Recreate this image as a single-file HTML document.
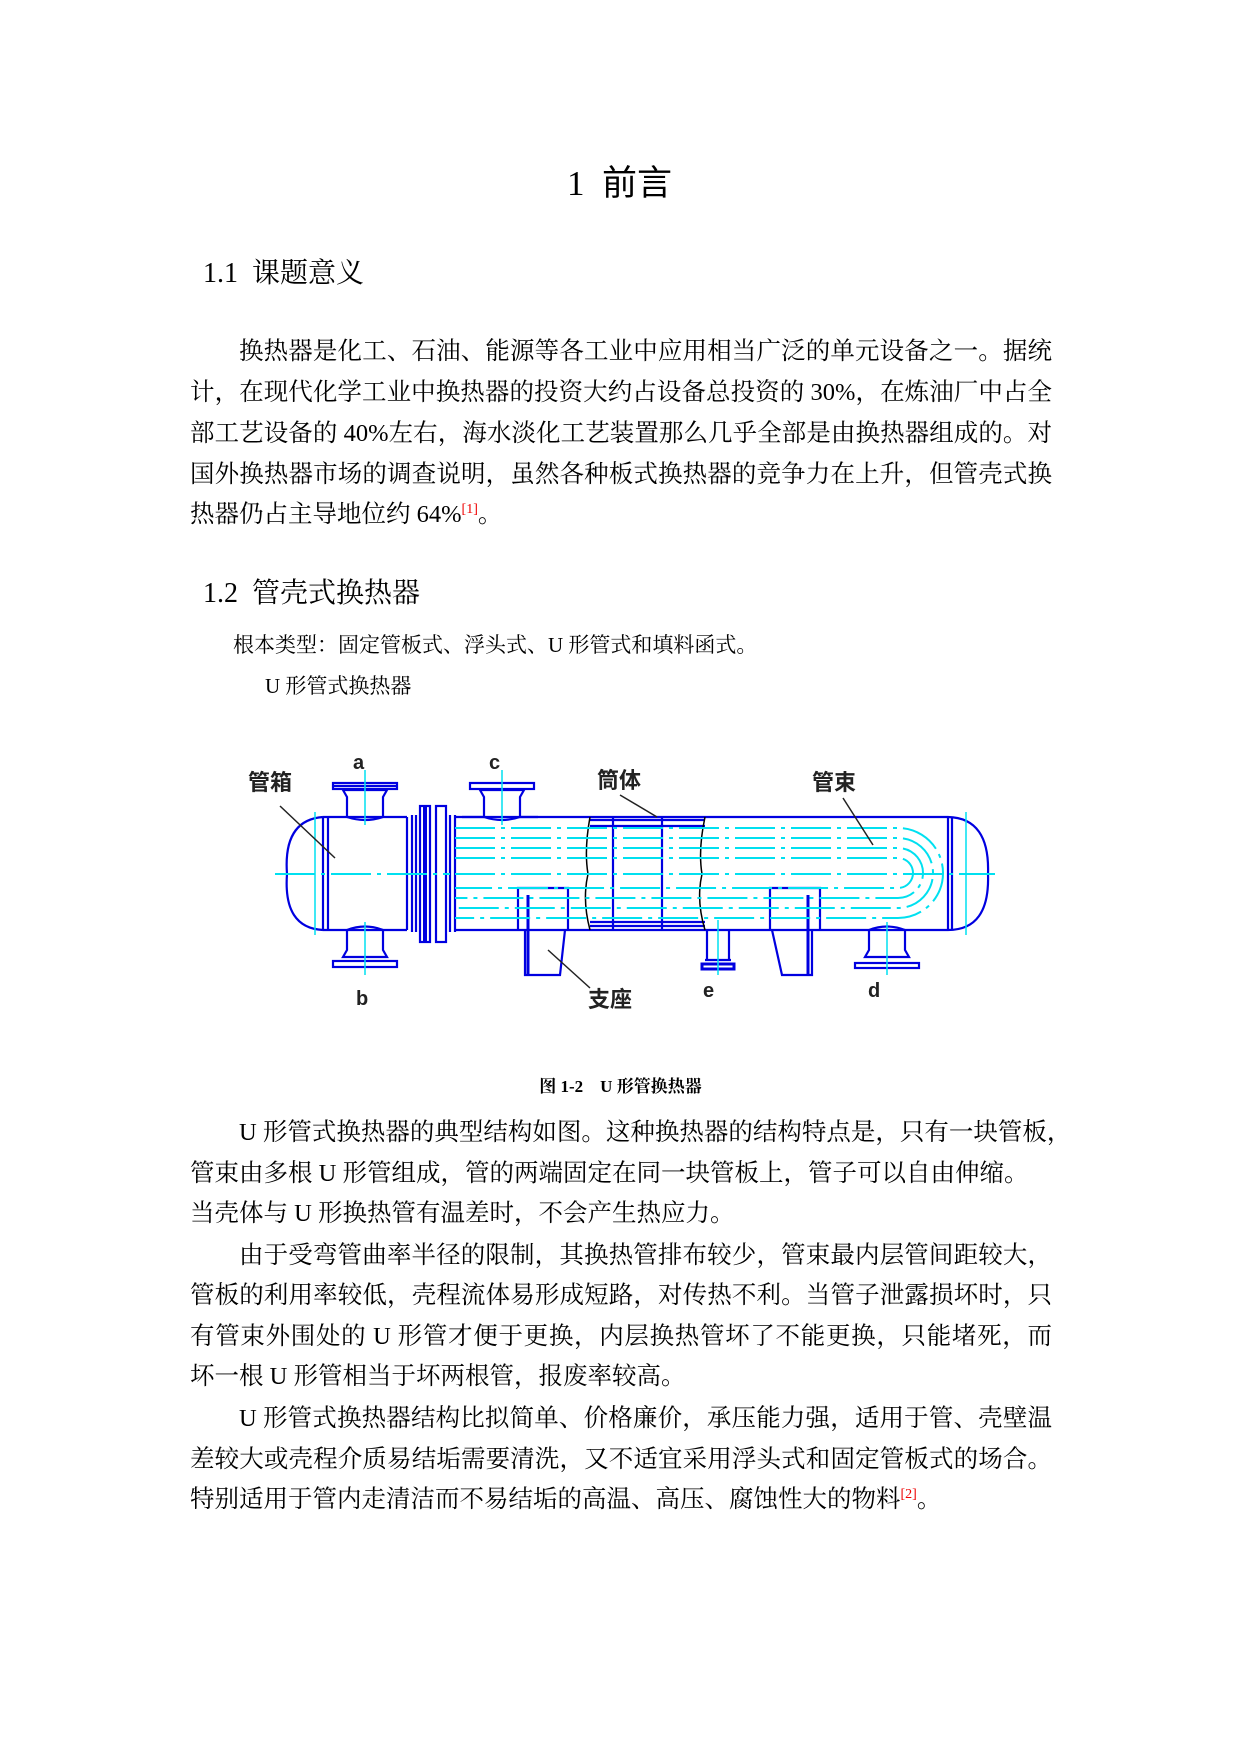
<!DOCTYPE html>
<html><head><meta charset="utf-8"><style>
body{margin:0;background:#fff;}
.pg{position:relative;width:1241px;height:1754px;overflow:hidden;font-family:"Liberation Serif","Noto Serif CJK SC",serif;color:#000;}
.l{position:absolute;left:190px;width:862px;font-size:24.5px;line-height:40px;height:40px;white-space:nowrap;}
.j{text-align:justify;text-align-last:justify;}
sup{color:#e00;font-size:14px;vertical-align:9px;line-height:0;}
.t{position:absolute;white-space:nowrap;}
</style></head><body><div class="pg">
<div class="t" style="left:567px;top:163px;font-size:35px;line-height:42px;font-family:'Liberation Serif','Noto Sans CJK SC',serif;">1&nbsp;&nbsp;前言</div>
<div class="t" style="left:203px;top:256px;font-size:28px;line-height:36px;">1.1&nbsp;&nbsp;课题意义</div>
<div class="l j" style="top:332px;padding-left:49px;width:813px;">换热器是化工、石油、能源等各工业中应用相当广泛的单元设备之一。据统</div>
<div class="l j" style="top:373px;">计，在现代化学工业中换热器的投资大约占设备总投资的 30%，在炼油厂中占全</div>
<div class="l j" style="top:414px;">部工艺设备的 40%左右，海水淡化工艺装置那么几乎全部是由换热器组成的。对</div>
<div class="l j" style="top:455px;">国外换热器市场的调查说明，虽然各种板式换热器的竞争力在上升，但管壳式换</div>
<div class="l" style="top:495px;">热器仍占主导地位约 64%<sup>[1]</sup>。</div>
<div class="t" style="left:203px;top:576px;font-size:28px;line-height:36px;">1.2&nbsp;&nbsp;管壳式换热器</div>
<div class="t" style="left:233px;top:631px;font-size:21px;line-height:28px;">根本类型：固定管板式、浮头式、U 形管式和填料函式。</div>
<div class="t" style="left:265px;top:672px;font-size:21px;line-height:28px;">U 形管式换热器</div>
<svg style="position:absolute;left:0;top:0" width="1241" height="1754" font-family="'Noto Sans CJK SC',sans-serif">
<g fill="none" stroke="#0000e0" stroke-width="2.2">
<path d="M323,817 Q283,820 287,874 Q283,928 323,930"/>
<line x1="323" y1="817" x2="323" y2="930"/><line x1="328" y1="817" x2="328" y2="930"/>
<line x1="323" y1="817" x2="407" y2="817"/><line x1="323" y1="930" x2="407" y2="930"/>
<line x1="407" y1="817" x2="407" y2="930"/><line x1="412" y1="815" x2="412" y2="932"/><line x1="416" y1="815" x2="416" y2="932"/>
<rect x="420" y="806" width="10" height="136"/><rect x="436" y="806" width="10" height="136"/>
<line x1="425" y1="806" x2="425" y2="942" stroke-width="4"/>
<line x1="450" y1="815" x2="450" y2="932"/><line x1="455" y1="815" x2="455" y2="932"/>
<line x1="455" y1="817" x2="948" y2="817"/><line x1="455" y1="930" x2="948" y2="930"/>
<line x1="590" y1="820" x2="705" y2="820"/><line x1="590" y1="826" x2="705" y2="826"/>
<line x1="590" y1="926" x2="705" y2="926"/><line x1="590" y1="922" x2="705" y2="922"/>
<line x1="613" y1="817" x2="613" y2="930"/><line x1="662" y1="817" x2="662" y2="930"/>
<path d="M948,817 Q990,818 988,874 Q990,930 948,930"/>
<line x1="948" y1="817" x2="948" y2="930"/><line x1="952" y1="817" x2="952" y2="930"/>
<path d="M347,817 V797 L343,790 H387 L383,797 V817"/><path d="M347,817 Q365,823 383,817"/>
<rect x="333" y="783" width="64" height="6"/><line x1="333" y1="786" x2="397" y2="786"/>
<path d="M484,817 V797 L480,790 H524 L520,797 V817"/><path d="M484,817 Q502,823 520,817"/>
<rect x="470" y="783" width="64" height="6"/>
<line x1="462" y1="817" x2="484" y2="817"/><line x1="520" y1="817" x2="538" y2="817"/>
<path d="M347,930 V950 L343,957 H387 L383,950 V930"/><path d="M347,930 Q365,923 383,930"/>
<rect x="333" y="961" width="64" height="6"/>
<path d="M707,930 V960 M729,930 V960 M705,960 H731"/><rect x="702" y="964" width="32" height="5" stroke-width="3"/>
<path d="M869,930 V950 L865,957 H909 L905,950 V930"/><path d="M869,930 Q887,923 905,930"/>
<rect x="855" y="963" width="64" height="5"/>
<path d="M518,930 V888 H568 V930"/><path d="M525,930 V975 H560 L565,930"/><line x1="528" y1="895" x2="528" y2="975" stroke-width="3"/>
<path d="M770,930 V888 H820 V930"/><path d="M772,930 L782,975 H812 V930"/><line x1="808" y1="895" x2="808" y2="975" stroke-width="3"/>
</g>
<path d="M590,817 Q584,850 588,874 Q582,900 590,930 M705,817 Q698,850 702,874 Q696,900 705,930" fill="none" stroke="#000" stroke-width="1.5"/>
<g fill="none" stroke="#00e0f0" stroke-width="2" stroke-dasharray="40,6,4,6">
<line x1="275" y1="874" x2="450" y2="874"/>
<line x1="455" y1="874" x2="995" y2="874"/>
<path d="M455,858 H898 A15,15 0 0 1 898,888 H455"/>
<path d="M455,848 H898 A25,25 0 0 1 898,898 H455"/>
<path d="M455,838 H898 A35,35 0 0 1 898,908 H455"/>
<path d="M455,828 H898 A45,45 0 0 1 898,918 H455"/>
</g>
<g stroke="#00e0f0" stroke-width="1.5">
<line x1="365" y1="770" x2="365" y2="825"/><line x1="502" y1="770" x2="502" y2="825"/>
<line x1="365" y1="922" x2="365" y2="975"/><line x1="718" y1="920" x2="718" y2="975"/>
<line x1="887" y1="922" x2="887" y2="975"/><line x1="315" y1="812" x2="315" y2="935"/><line x1="966" y1="812" x2="966" y2="935"/>
</g>
<g stroke="#222" stroke-width="1.5">
<line x1="280" y1="806" x2="335" y2="858"/><line x1="620" y1="795" x2="657" y2="817"/>
<line x1="843" y1="798" x2="873" y2="845"/><line x1="548" y1="950" x2="590" y2="988"/>
</g>
<g font-size="22" fill="#222" font-weight="bold">
<text x="248" y="790">管箱</text><text x="597" y="788">筒体</text><text x="812" y="790">管束</text><text x="588" y="1007">支座</text>
</g>
<g font-size="20" fill="#222" font-family="'Liberation Sans',sans-serif" font-weight="bold">
<text x="353" y="769">a</text><text x="489" y="769">c</text><text x="356" y="1005">b</text><text x="703" y="997">e</text><text x="868" y="997">d</text>
</g>
</svg>
<div class="t" style="left:0;width:1241px;text-align:center;top:1075px;font-size:17px;line-height:24px;font-weight:bold;">图 1-2&nbsp;&nbsp;&nbsp;&nbsp;U 形管换热器</div>
<div class="l j" style="top:1113px;padding-left:49px;width:813px;">U 形管式换热器的典型结构如图。这种换热器的结构特点是，只有一块管板，</div>
<div class="l" style="top:1154px;">管束由多根 U 形管组成，管的两端固定在同一块管板上，管子可以自由伸缩。</div>
<div class="l" style="top:1194px;">当壳体与 U 形换热管有温差时，不会产生热应力。</div>
<div class="l j" style="top:1236px;padding-left:49px;width:813px;">由于受弯管曲率半径的限制，其换热管排布较少，管束最内层管间距较大，</div>
<div class="l j" style="top:1276px;">管板的利用率较低，壳程流体易形成短路，对传热不利。当管子泄露损坏时，只</div>
<div class="l j" style="top:1317px;">有管束外围处的 U 形管才便于更换，内层换热管坏了不能更换，只能堵死，而</div>
<div class="l" style="top:1357px;">坏一根 U 形管相当于坏两根管，报废率较高。</div>
<div class="l j" style="top:1399px;padding-left:49px;width:813px;">U 形管式换热器结构比拟简单、价格廉价，承压能力强，适用于管、壳壁温</div>
<div class="l j" style="top:1440px;">差较大或壳程介质易结垢需要清洗，又不适宜采用浮头式和固定管板式的场合。</div>
<div class="l" style="top:1480px;">特别适用于管内走清洁而不易结垢的高温、高压、腐蚀性大的物料<sup>[2]</sup>。</div>
</div></body></html>
